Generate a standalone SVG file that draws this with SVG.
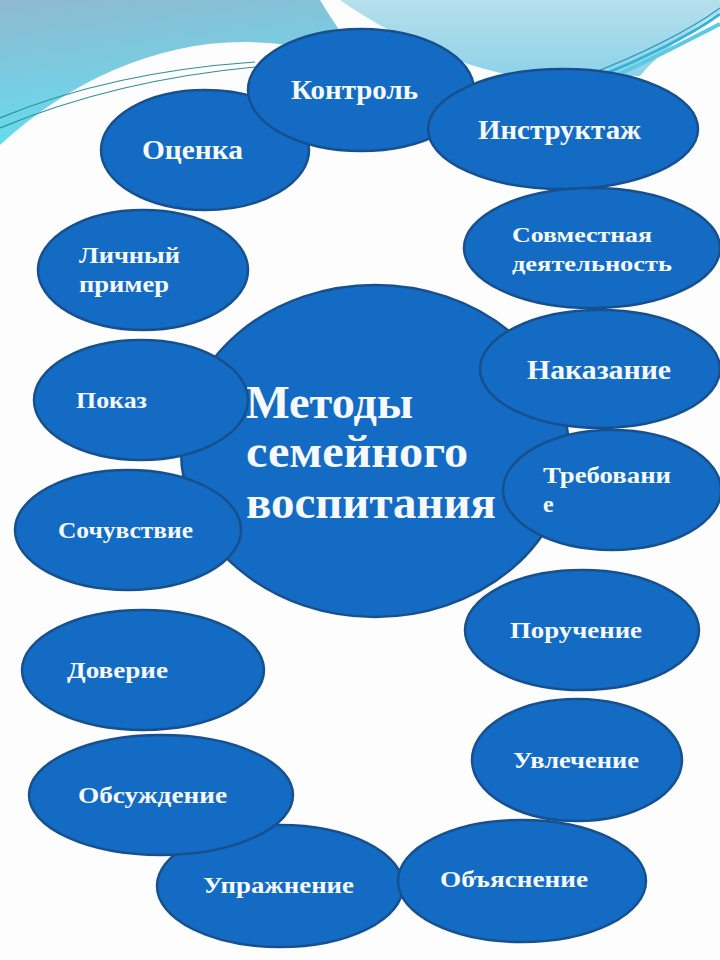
<svg xmlns="http://www.w3.org/2000/svg" width="720" height="960" viewBox="0 0 720 960">
<defs>
<linearGradient id="gl" x1="0" y1="0" x2="0.3" y2="1">
<stop offset="0" stop-color="#8fb9cf"/>
<stop offset="0.6" stop-color="#76cfe4"/>
<stop offset="1" stop-color="#5fe0f0"/>
</linearGradient>
<linearGradient id="gr" x1="0" y1="0" x2="0" y2="1">
<stop offset="0" stop-color="#b6e0ec"/>
<stop offset="1" stop-color="#8ed2e8"/>
</linearGradient>
<style>
.n ellipse{fill:#146bc3;stroke:#17508e;stroke-width:2.5}
.n text{fill:#f6f9fc;font-family:"Liberation Serif","DejaVu Serif",serif;font-weight:bold;}
.s{font-size:24px}
.l{font-size:28px}
.t{font-size:46px}
</style>
</defs>
<rect width="720" height="960" fill="#fdfdfd"/>
<g id="background">
<path d="M0,0 H320 C335,25 350,45 360,62 C330,52 300,44 250,42 C160,40 70,80 0,145 Z" fill="url(#gl)"/>
<path d="M0,118 Q110,72 255,62" fill="none" stroke="#2e8f96" stroke-width="1.2"/>
<path d="M0,128 Q115,80 255,67" fill="none" stroke="#2e8f96" stroke-width="1.2"/>
<path d="M340,0 H720 V12 C690,30 660,52 640,76 L505,74 C450,62 390,35 340,0 Z" fill="url(#gr)"/>
<path d="M600,76 C640,60 690,36 720,14" fill="none" stroke="#35b5d6" stroke-width="3"/>
<path d="M615,76 C655,58 700,34 720,24" fill="none" stroke="#5ec9e2" stroke-width="4"/>
<path d="M590,74 C640,55 690,30 720,8" fill="none" stroke="#2a9cc0" stroke-width="1.2"/>
</g>
<g id="connectors"></g>
<g id="center" class="n"><ellipse cx="375" cy="451" rx="194" ry="166"/>
<text class="t" x="246" y="418" textLength="167" lengthAdjust="spacingAndGlyphs">Методы</text>
<text class="t" x="246" y="467" textLength="222" lengthAdjust="spacingAndGlyphs">семейного</text>
<text class="t" x="246" y="518" textLength="250" lengthAdjust="spacingAndGlyphs">воспитания</text></g>
<g id="n-otsenka" class="n"><ellipse cx="205" cy="150" rx="104" ry="60"/><text class="l" x="142" y="159" textLength="101" lengthAdjust="spacingAndGlyphs">Оценка</text></g>
<g id="n-kontrol" class="n"><ellipse cx="361" cy="90" rx="113" ry="61"/><text class="l" x="291" y="99" textLength="127" lengthAdjust="spacingAndGlyphs">Контроль</text></g>
<g id="n-instruktazh" class="n"><ellipse cx="563" cy="129" rx="135" ry="60"/><text class="l" x="478" y="139" textLength="163" lengthAdjust="spacingAndGlyphs">Инструктаж</text></g>
<g id="n-sovmestnaya" class="n"><ellipse cx="592" cy="248" rx="128" ry="60"/><text class="s" x="512" y="242" textLength="140" lengthAdjust="spacingAndGlyphs" style="font-size:22px">Совместная</text><text class="s" x="512" y="271" textLength="160" lengthAdjust="spacingAndGlyphs" style="font-size:22px">деятельность</text></g>
<g id="n-lichny" class="n"><ellipse cx="143" cy="270" rx="105" ry="60"/><text class="s" x="79" y="263" textLength="101" lengthAdjust="spacingAndGlyphs">Личный</text><text class="s" x="79" y="292" textLength="90" lengthAdjust="spacingAndGlyphs">пример</text></g>
<g id="n-nakazanie" class="n"><ellipse cx="600" cy="369" rx="120" ry="59"/><text class="l" x="527" y="379" textLength="144" lengthAdjust="spacingAndGlyphs">Наказание</text></g>
<g id="n-pokaz" class="n"><ellipse cx="141" cy="400" rx="107" ry="60"/><text class="s" x="76" y="408" textLength="71" lengthAdjust="spacingAndGlyphs">Показ</text></g>
<g id="n-trebovanie" class="n"><ellipse cx="612" cy="490" rx="109" ry="60"/><text class="s" x="543" y="483" textLength="128" lengthAdjust="spacingAndGlyphs">Требовани</text><text class="s" x="543" y="512">е</text></g>
<g id="n-sochuvstvie" class="n"><ellipse cx="128" cy="530" rx="113" ry="60"/><text class="s" x="58" y="538" textLength="135" lengthAdjust="spacingAndGlyphs">Сочувствие</text></g>
<g id="n-poruchenie" class="n"><ellipse cx="582" cy="630" rx="117" ry="60"/><text class="s" x="510" y="638" textLength="132" lengthAdjust="spacingAndGlyphs">Поручение</text></g>
<g id="n-doverie" class="n"><ellipse cx="143" cy="670" rx="121" ry="60"/><text class="s" x="67" y="678" textLength="101" lengthAdjust="spacingAndGlyphs">Доверие</text></g>
<g id="n-uvlechenie" class="n"><ellipse cx="577" cy="760" rx="105" ry="61"/><text class="s" x="513" y="768" textLength="126" lengthAdjust="spacingAndGlyphs">Увлечение</text></g>
<g id="n-uprazhnenie" class="n"><ellipse cx="280" cy="886" rx="123" ry="61"/><text class="s" x="203" y="893" textLength="151" lengthAdjust="spacingAndGlyphs">Упражнение</text></g>
<g id="n-obsuzhdenie" class="n"><ellipse cx="161" cy="795" rx="132" ry="60"/><text class="s" x="78" y="803" textLength="149" lengthAdjust="spacingAndGlyphs">Обсуждение</text></g>
<g id="n-obyasnenie" class="n"><ellipse cx="522" cy="881" rx="124" ry="61"/><text class="s" x="440" y="887" textLength="148" lengthAdjust="spacingAndGlyphs">Объяснение</text></g>
</svg>
